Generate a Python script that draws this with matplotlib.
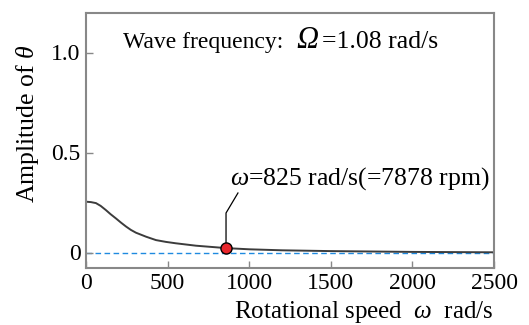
import matplotlib
matplotlib.use("Agg")
import matplotlib.pyplot as plt

plt.rcParams["font.family"] = ["Liberation Serif", "DejaVu Serif"]
plt.rcParams["mathtext.fontset"] = "custom"
plt.rcParams["mathtext.rm"] = "Liberation Serif"
plt.rcParams["mathtext.it"] = "Liberation Serif:italic"

# amplitude curve
speed = [0, 30, 61, 90, 122, 150, 184, 215, 245, 275, 306, 368, 429, 490,
         551, 674, 858, 1000, 1200, 1500, 2000, 2500]
amplitude = [0.254, 0.252, 0.247, 0.233, 0.212, 0.192, 0.17, 0.149, 0.13,
             0.113, 0.099, 0.079, 0.062, 0.053, 0.046, 0.034, 0.022, 0.016,
             0.011, 0.007, 0.003, 0.001]
point_speed = 858
point_amp = 0.022

x_ticks = [0, 500, 1000, 1500, 2000, 2500]
y_ticks = [0, 0.5, 1.0]
y_tick_labels = ["0", "0.5", "1.0"]

W, H = 529, 325
fig = plt.figure(figsize=(W / 100, H / 100), dpi=100)
ax = fig.add_axes([86 / W, 1 - 268.3 / H, 408 / W, 255.6 / H])

ax.axhline(0, color="#1f8ae0", lw=1.0, ls=(0, (4, 2.5)), zorder=1)
ax.plot(speed, amplitude, color="#3c3c3c", lw=1.4, zorder=2)

ax.set_xlim(0, 2500)
ax.set_ylim(-0.079, 1.199)
ax.set_xticks(x_ticks)
ax.set_yticks(y_ticks)
ax.set_yticklabels(y_tick_labels)
ax.tick_params(direction="in", length=5, width=1, color="#888888",
               labelsize=17)
ax.tick_params(axis="x", pad=3.5)
ax.tick_params(axis="y", pad=4)
for s in ax.spines.values():
    s.set_color("#888888")
    s.set_linewidth(1.5)

# leader line and marker
ax.plot([point_speed, point_speed, 931], [point_amp, 0.1975, 0.2975],
        color="black", lw=0.9, zorder=3)
ax.plot([point_speed], [point_amp], "o", ms=8, mfc="#e8262c", mec="black",
        mew=1.0, zorder=4)
ax.text(884, 0.3375, r"$\omega$=825 rad/s(=7878 rpm)", fontsize=18.5,
        ha="left", va="baseline")


def px_text(x, y, s, **kw):
    fig.text(x / W, 1 - y / H, s, **kw)


px_text(123, 48, "Wave frequency:", fontsize=17, ha="left", va="baseline")
px_text(296, 48, "\u03a9", fontsize=22, style="italic", ha="left",
        va="baseline")
px_text(322, 48, "=1.08 rad/s", fontsize=18.5, ha="left", va="baseline")

px_text(494, 318, r"Rotational speed  $\omega$  rad/s", fontsize=18,
        ha="right", va="baseline")
px_text(28, 124, r"Amplitude of $\theta$", fontsize=18.5,
        ha="center", va="center", rotation=90)

fig.savefig("out.png", dpi=100)
